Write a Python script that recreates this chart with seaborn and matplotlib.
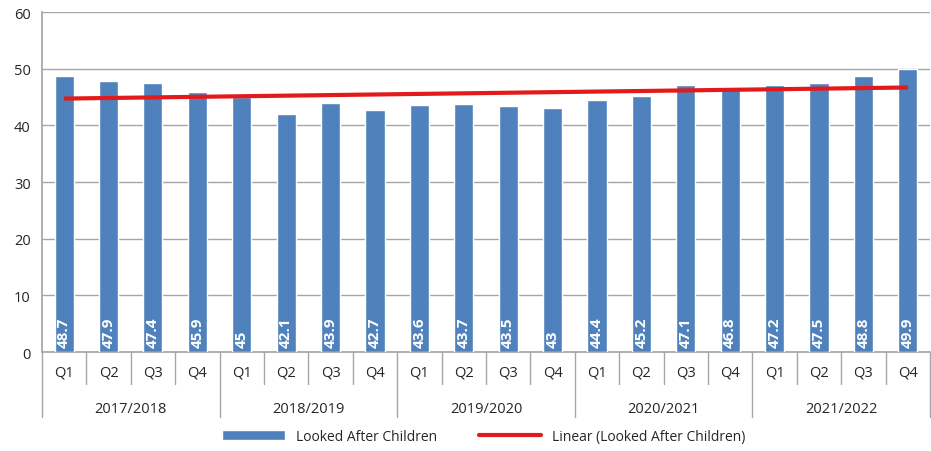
import numpy as np
import pandas as pd
import matplotlib
matplotlib.use("Agg")
import matplotlib.pyplot as plt
import seaborn as sns
from matplotlib.patches import Patch
from matplotlib.lines import Line2D

years = ["2017/2018", "2018/2019", "2019/2020", "2020/2021", "2021/2022"]
quarters = ["Q1", "Q2", "Q3", "Q4"]
values = [48.7, 47.9, 47.4, 45.9,
          45.0, 42.1, 43.9, 42.7,
          43.6, 43.7, 43.5, 43.0,
          44.4, 45.2, 47.1, 46.8,
          47.2, 47.5, 48.8, 49.9]
value_labels = ["48.7", "47.9", "47.4", "45.9",
                "45", "42.1", "43.9", "42.7",
                "43.6", "43.7", "43.5", "43",
                "44.4", "45.2", "47.1", "46.8",
                "47.2", "47.5", "48.8", "49.9"]

BAR_BLUE = "#4F81BD"
TREND_RED = "#E31A1C"
GRID = "#A6A6A6"

sns.set_theme(style="white")
plt.rcParams["font.family"] = ["Open Sans", "DejaVu Sans"]

df = pd.DataFrame({
    "slot": [f"{y} {q}" for y in years for q in quarters],
    "value": values,
})

fig = plt.figure(figsize=(9.31, 4.52), dpi=100)
ax = fig.add_axes([0.045, 0.219, 0.954, 0.752])

sns.barplot(data=df, x="slot", y="value", color=BAR_BLUE, width=0.43,
            saturation=1, ax=ax, zorder=3)

# linear trendline (Excel-style) fitted on the series
idx = np.arange(len(values))
slope, intercept = np.polyfit(idx, values, 1)
ax.plot(idx, slope * idx + intercept, color=TREND_RED, lw=3, zorder=4,
        solid_capstyle="butt")

# data labels inside bars
for i, lab in enumerate(value_labels):
    ax.text(i, 0.9, lab, rotation=90, ha="center", va="bottom",
            color="white", fontsize=11, fontweight="bold", zorder=5)

ax.set_ylim(0, 60)
ax.set_xlim(-0.5, len(values) - 0.5)
ax.set_yticks(range(0, 61, 10))
ax.yaxis.grid(True, color=GRID, lw=1)
ax.set_axisbelow(True)
ax.tick_params(axis="y", labelsize=10.5, length=4, color=GRID, pad=4)
ax.set_ylabel("")
ax.set_xlabel("")

for side in ["top", "right"]:
    ax.spines[side].set_visible(False)
for side in ["left", "bottom"]:
    ax.spines[side].set_color(GRID)

# multi-level category axis
ax.set_xticks(idx)
ax.set_xticklabels(quarters * len(years), fontsize=10.5)
ax.tick_params(axis="x", length=0, pad=9)
trans = ax.get_xaxis_transform()
for i in range(len(values) + 1):
    is_year = i % 4 == 0
    low = -0.19 if is_year else -0.095
    ax.plot([i - 0.5, i - 0.5], [0, low], transform=trans, color=GRID,
            lw=1, clip_on=False)
for k, yr in enumerate(years):
    ax.text(k * 4 + 1.5, -0.165, yr, transform=trans, ha="center",
            va="center", fontsize=10.5)

handles = [Patch(facecolor=BAR_BLUE, label="Looked After Children"),
           Line2D([0], [0], color=TREND_RED, lw=3,
                  label="Linear (Looked After Children)")]
fig.legend(handles=handles, loc="center", bbox_to_anchor=(0.52, 0.033),
           ncol=2, frameon=False, fontsize=10, handlelength=4.5,
           columnspacing=3)

fig.savefig("out.png", dpi=100)
